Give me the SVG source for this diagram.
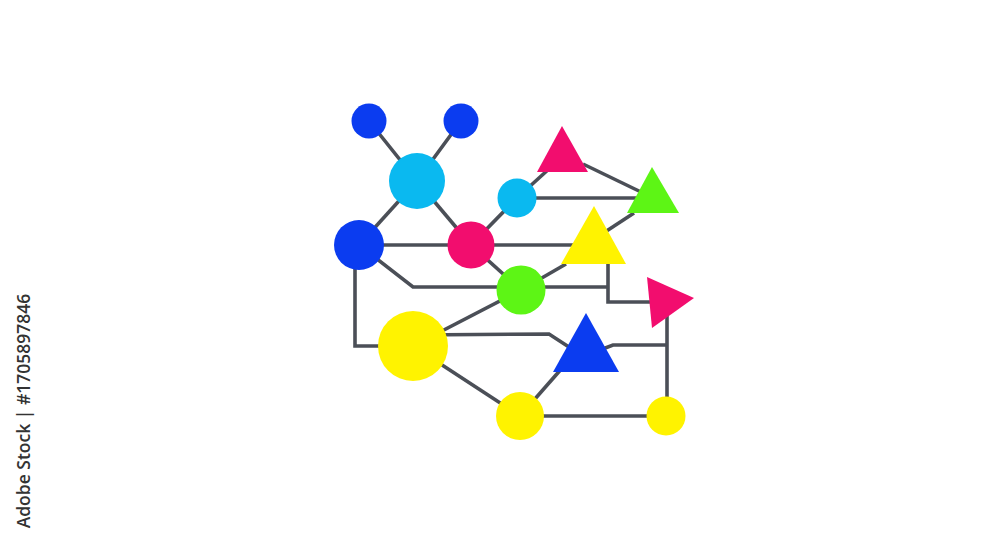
<svg xmlns="http://www.w3.org/2000/svg" width="1000" height="545" viewBox="0 0 1000 545">
<style>
.e{fill:none;stroke:#4b4f57;stroke-width:3.6;stroke-linejoin:miter}
.blue{fill:#0b3cf0}.cyan{fill:#0ab9f0}.pink{fill:#f20d6e}.green{fill:#5df515}.yellow{fill:#fff300}
.wm{font-family:"Open Sans","Liberation Sans",sans-serif;font-size:17.5px;font-weight:600;fill:#333333}
</style>
<rect width="1000" height="545" fill="#ffffff"/>
<g id="connectors">
<path class="e" d="M369,121 L417,181 L461,121"/>
<path class="e" d="M417,181 L359,245"/>
<path class="e" d="M417,181 L471,245"/>
<path class="e" d="M471,245 L517,198 L550,168"/>
<path class="e" d="M583,164 L641,192"/>
<path class="e" d="M517,198 L641,198"/>
<path class="e" d="M359,245 L576,245"/>
<path class="e" d="M605,232 L634,213"/>
<path class="e" d="M521,290 L566,264"/>
<path class="e" d="M471,245 L521,290"/>
<path class="e" d="M359,245 L413,287 L608,287"/>
<path class="e" d="M608,262 L608,302 L650,302"/>
<path class="e" d="M355,245 L355,346 L413,346"/>
<path class="e" d="M413,346 L521,290"/>
<path class="e" d="M413,335 L549,334 L572,349"/>
<path class="e" d="M600,350 L613,345 L667,345"/>
<path class="e" d="M667,310 L667,416"/>
<path class="e" d="M413,346 L520,416"/>
<path class="e" d="M520,416 L563,367"/>
<path class="e" d="M520,416 L666,416"/>
</g>
<g id="n-blue-tl"><circle class="blue" cx="369" cy="121" r="17.5"/></g>
<g id="n-blue-tr"><circle class="blue" cx="461" cy="121" r="17.5"/></g>
<g id="n-cyan-big"><circle class="cyan" cx="417" cy="181" r="28"/></g>
<g id="n-blue-mid"><circle class="blue" cx="359" cy="245" r="25"/></g>
<g id="n-pink-circle"><circle class="pink" cx="471" cy="245" r="23.5"/></g>
<g id="n-cyan-small"><circle class="cyan" cx="517" cy="198" r="19.5"/></g>
<g id="n-pink-tri"><polygon class="pink" points="562,126 588,172 537,172"/></g>
<g id="n-green-tri"><polygon class="green" points="652,167 679,213 627,213"/></g>
<g id="n-yellow-tri"><polygon class="yellow" points="594,206 626,264 561,264"/></g>
<g id="n-green-circle"><circle class="green" cx="521" cy="290" r="24.5"/></g>
<g id="n-pink-right"><polygon class="pink" points="647,277 694,298 652,328"/></g>
<g id="n-yellow-big"><circle class="yellow" cx="413" cy="346" r="35"/></g>
<g id="n-blue-tri"><polygon class="blue" points="586,313 619,372 553,372"/></g>
<g id="n-yellow-bottom"><circle class="yellow" cx="520" cy="416" r="24"/></g>
<g id="n-yellow-small"><circle class="yellow" cx="666" cy="416" r="19.5"/></g>
<text class="wm" transform="translate(30,411) rotate(-90)" text-anchor="middle">Adobe Stock | #1705897846</text>
</svg>
